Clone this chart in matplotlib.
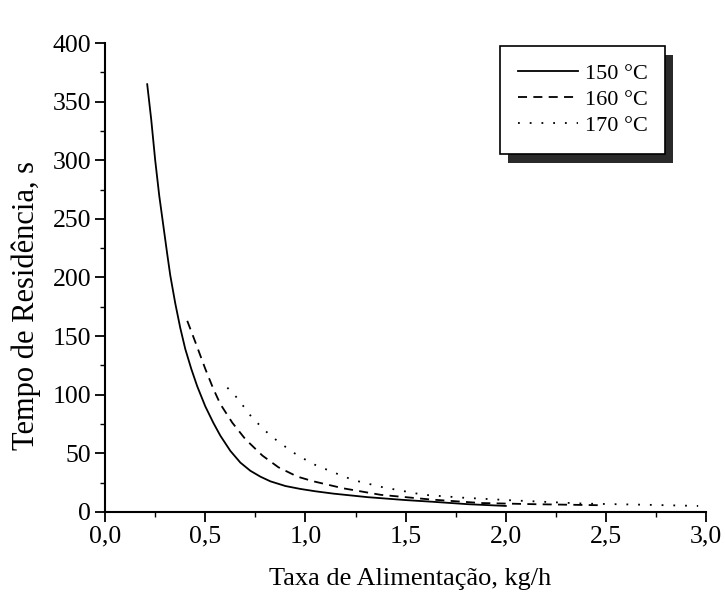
import matplotlib
matplotlib.use("Agg")
import matplotlib.pyplot as plt
from matplotlib.ticker import MultipleLocator, FuncFormatter
from matplotlib.patches import Rectangle

plt.rcParams['font.family'] = ['Liberation Serif', 'DejaVu Serif']

# Residence time (s) versus feed rate (kg/h) at three temperatures
feed_150 = [0.21, 0.23, 0.25, 0.27, 0.29, 0.31, 0.325, 0.35, 0.375, 0.40,
            0.43, 0.46, 0.50, 0.54, 0.575, 0.625, 0.675, 0.725, 0.775, 0.825,
            0.90, 0.975, 1.05, 1.14, 1.31, 1.50, 1.64, 1.81, 2.00]
time_150 = [365, 335, 300, 270, 245, 220, 202, 178, 157, 139,
            122, 107, 90, 76, 65, 52, 42, 35, 30, 26,
            22, 19.5, 17.5, 15.5, 12.5, 10, 8.5, 6.5, 5]

feed_160 = [0.41, 0.45, 0.50, 0.54, 0.575, 0.635, 0.70, 0.785, 0.865, 0.96,
            1.04, 1.19, 1.375, 1.625, 1.875, 2.14, 2.475]
time_160 = [163, 145, 122, 105, 92, 76, 62, 48, 38, 30,
            26, 20, 14.5, 10.5, 7.5, 6.5, 5.6]

feed_170 = [0.61, 0.66, 0.735, 0.825, 0.935, 1.035, 1.135, 1.24, 1.385, 1.59,
            1.79, 2.04, 2.39, 2.70, 2.96]
time_170 = [106, 97, 80, 65, 51, 41, 34, 27, 21, 14.5,
            12, 9.7, 7, 6, 5]

labels = ['150 °C', '160 °C', '170 °C']
x_ticks = [0.0, 0.5, 1.0, 1.5, 2.0, 2.5, 3.0]

fig = plt.figure(figsize=(7.25, 6.0), dpi=100)
ax = fig.add_axes([0.145, 0.147, 0.829, 0.781])

lw = 1.3
ax.plot(feed_150, time_150, color='black', lw=lw, ls='-', label=labels[0])
ax.plot(feed_160, time_160, color='black', lw=lw, ls=(0, (5, 3.5)), label=labels[1])
ax.plot(feed_170, time_170, color='black', lw=lw, ls=(0, (1, 5.5)), label=labels[2])

ax.set_xlim(0, 3.0)
ax.set_ylim(0, 400)
ax.set_xticks(x_ticks)
ax.xaxis.set_minor_locator(MultipleLocator(0.25))
ax.yaxis.set_major_locator(MultipleLocator(50))
ax.yaxis.set_minor_locator(MultipleLocator(25))
ax.xaxis.set_major_formatter(FuncFormatter(lambda v, p: f"{v:.1f}".replace('.', ',')))

for side in ('top', 'right'):
    ax.spines[side].set_visible(False)
for side in ('left', 'bottom'):
    ax.spines[side].set_linewidth(1.5)

ax.tick_params(axis='both', which='major', direction='out', length=7, width=1.3,
               labelsize=18.5, pad=3)
ax.tick_params(axis='both', which='minor', direction='out', length=3.5, width=1.0)

ax.set_xlabel('Taxa de Alimentação, kg/h', fontsize=19)
ax.xaxis.set_label_coords(0.508, -0.12)
ax.set_ylabel('Tempo de Residência, s', fontsize=22)
ax.yaxis.set_label_coords(-0.106, 0.44)

leg = ax.legend(loc='upper right', bbox_to_anchor=(0.932, 0.995), fontsize=16,
                frameon=True, fancybox=False, framealpha=1, edgecolor='black',
                handlelength=2.7, handletextpad=0.3, borderpad=0.8,
                labelspacing=0.25, borderaxespad=0)
leg.get_frame().set_linewidth(1.2)
leg.set_zorder(6)

# drop shadow behind the legend box
fig.canvas.draw()
bb = leg.get_window_extent()
shadow = Rectangle((bb.x0 + 8, bb.y0 - 9), bb.width, bb.height,
                   transform=None, facecolor='#2a2a2a', edgecolor='none',
                   zorder=5)
ax.add_artist(shadow)

fig.savefig('out.png', dpi=100)
